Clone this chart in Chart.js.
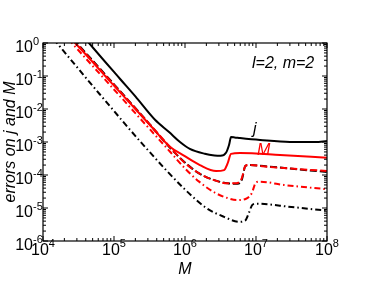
<!DOCTYPE html>
<html>
<head>
<meta charset="utf-8">
<script src="https://cdn.jsdelivr.net/npm/chart.js@4/dist/chart.umd.min.js"></script>
<style>
  html, body { margin: 0; padding: 0; background: #fff; }
  #wrap { width: 367px; height: 284px; position: relative; }
</style>
</head>
<body>
<div id="wrap"><canvas id="c"></canvas></div>
<script>
// ---- data (M, error) ----
const jSolidM   = [4.0e4, 4.45e4, 1.22e5, 2.0e5, 3.78e5, 5.96e5, 8.5e5, 1.17e6, 1.9e6, 2.6e6, 3.16e6, 3.78e6, 4.17e6, 4.45e6, 5.0e6, 5.96e6, 1.14e7, 3.0e7, 6.8e7, 1.0e8];
const jSolidErr = [1.32, 1.0, 8.1e-2, 2.4e-2, 4.7e-3, 2.0e-3, 1.0e-3, 6.2e-4, 4.4e-4, 3.9e-4, 3.8e-4, 4.7e-4, 8.1e-4, 1.41e-3, 1.38e-3, 1.32e-3, 1.15e-3, 1.0e-3, 1.0e-3, 1.07e-3];

const mSolidM   = [2.5e4, 2.83e4, 1.0e5, 3.16e5, 6.2e5, 9.8e5, 1.62e6, 2.74e6, 3.55e6, 3.98e6, 4.45e6, 5.96e6, 2.18e7, 1.0e8];
const mSolidErr = [1.3, 1.0, 5.1e-2, 3.4e-3, 7.1e-4, 3.8e-4, 2.0e-4, 1.32e-4, 1.41e-4, 2.24e-4, 4.37e-4, 4.68e-4, 4.07e-4, 3.31e-4];

const mDashedM   = [2.6e4, 2.92e4, 1.0e5, 3.16e5, 6.3e5, 9.8e5, 1.58e6, 2.51e6, 3.98e6, 5.25e6, 6.3e6, 7.1e6, 7.94e6, 1.58e7, 3.98e7, 1.0e8];
const mDashedErr = [1.32, 1.0, 5.4e-2, 3.5e-3, 6.6e-4, 2.4e-4, 1.12e-4, 7.1e-5, 5.6e-5, 5.6e-5, 7.9e-5, 1.9e-4, 2.0e-4, 1.74e-4, 1.51e-4, 1.32e-4];

const jDashedM   = [2.69e4, 3.01e4, 1.0e5, 3.16e5, 6.3e5, 1.07e6, 1.58e6, 2.51e6, 3.98e6, 5.5e6, 6.3e6, 7.1e6, 7.94e6, 1.58e7, 3.98e7, 1.0e8];
const jDashedErr = [1.32, 1.0, 5.6e-2, 3.5e-3, 6.3e-4, 2.1e-4, 1.12e-4, 7.1e-5, 5.6e-5, 5.4e-5, 7.1e-5, 1.9e-4, 2.0e-4, 1.78e-4, 1.48e-4, 1.23e-4];

const mDashDotM   = [2.29e4, 2.56e4, 1.0e5, 3.16e5, 6.3e5, 1.02e6, 1.58e6, 2.57e6, 3.98e6, 5.37e6, 7.24e6, 8.71e6, 1.0e7, 1.12e7, 2.45e7, 1.0e8];
const mDashDotErr = [1.32, 1.0, 3.9e-2, 2.5e-3, 4.8e-4, 1.51e-4, 6.3e-5, 3.0e-5, 2.0e-5, 1.74e-5, 1.91e-5, 2.8e-5, 6.0e-5, 6.3e-5, 5.0e-5, 3.7e-5];

const jDashDotM   = [1.41e4, 1.57e4, 6.3e4, 2.74e5, 9.8e5, 2.0e6, 3.55e6, 5.75e6, 7.08e6, 7.94e6, 8.91e6, 1.0e7, 3.16e7, 1.0e8];
const jDashDotErr = [1.32, 1.0, 2.8e-2, 7.1e-4, 3.8e-5, 1.0e-5, 5.4e-6, 3.8e-6, 4.2e-6, 7.1e-6, 1.26e-5, 1.35e-5, 1.07e-5, 8.3e-6];

const xTickExps = [4, 5, 6, 7, 8];
const yTickExps = [0, -1, -2, -3, -4, -5, -6];
const xTitle = 'M';
const yTitle = 'errors on j and M';
const modeLabel = 'l=2, m=2';
const jLabel = 'j';
const mLabel = 'M';
// -------------------------------------------------

const pts = (xs, ys) => xs.map((v, i) => ({ x: v, y: ys[i] }));
const FONT = '"Liberation Sans", Arial, Helvetica, sans-serif';

function ds(label, xs, ys, color, dash) {
  return {
    label, data: pts(xs, ys),
    borderColor: color, backgroundColor: color,
    borderWidth: 2, borderDash: dash,
    pointRadius: 0, fill: false,
    cubicInterpolationMode: 'monotone'
  };
}

const deco = {
  id: 'deco',
  afterDraw(chart) {
    const { ctx, chartArea: a, scales } = chart;
    const xs = scales.x, ys = scales.y;
    ctx.save();
    ctx.strokeStyle = '#000';
    ctx.lineWidth = 1.2;
    ctx.setLineDash([]);
    ctx.strokeRect(a.left, a.top, a.right - a.left, a.bottom - a.top);
    ctx.lineWidth = 1;
    const seg = (x1, y1, x2, y2) => { ctx.beginPath(); ctx.moveTo(x1, y1); ctx.lineTo(x2, y2); ctx.stroke(); };
    // x ticks
    for (let k = xTickExps[0]; k <= xTickExps[xTickExps.length - 1]; k++) {
      for (let m = 1; m <= 9; m++) {
        const v = m * Math.pow(10, k);
        if (v > xs.max * 1.0001) break;
        const p = xs.getPixelForValue(v);
        const len = m === 1 ? 5 : 3;
        seg(p, a.bottom, p, a.bottom - len);
        seg(p, a.top, p, a.top + len);
      }
    }
    // y ticks
    for (let k = yTickExps[yTickExps.length - 1]; k <= yTickExps[0]; k++) {
      for (let m = 1; m <= 9; m++) {
        const v = m * Math.pow(10, k);
        if (v > ys.max * 1.0001) break;
        const p = ys.getPixelForValue(v);
        const len = m === 1 ? 5 : 3;
        seg(a.left, p, a.left + len, p);
        seg(a.right, p, a.right - len, p);
      }
    }
    ctx.fillStyle = '#000';
    const big = '16px ' + FONT, small = '11px ' + FONT;
    // x tick labels
    xTickExps.forEach(e => {
      const p = xs.getPixelForValue(Math.pow(10, e));
      ctx.font = big; const w1 = ctx.measureText('10').width;
      ctx.font = small; const w2 = ctx.measureText(String(e)).width;
      const x0 = p - (w1 + w2) / 2;
      ctx.textBaseline = 'alphabetic'; ctx.textAlign = 'left';
      ctx.font = big; ctx.fillText('10', x0, a.bottom + 13.5);
      ctx.font = small; ctx.fillText(String(e), x0 + w1, a.bottom + 5.5);
    });
    // y tick labels
    yTickExps.forEach(e => {
      const p = ys.getPixelForValue(Math.pow(10, e));
      const es = String(e);
      ctx.font = big; const w1 = ctx.measureText('10').width;
      const xr = a.left - 10;
      ctx.textBaseline = 'alphabetic'; ctx.textAlign = 'left';
      ctx.font = big; ctx.fillText('10', xr - w1, p + 8.5);
      ctx.font = small; ctx.fillText(es, xr, p + 1.5);
    });
    // axis titles
    ctx.font = 'italic 16px ' + FONT;
    ctx.textAlign = 'center';
    ctx.fillText(xTitle, (a.left + a.right) / 2, a.bottom + 33);
    ctx.save();
    ctx.translate(15, (a.top + a.bottom) / 2);
    ctx.rotate(-Math.PI / 2);
    ctx.fillText(yTitle, 0, 0);
    ctx.restore();
    // annotations
    ctx.textAlign = 'left';
    ctx.fillText(modeLabel, 252, 68);
    ctx.fillText(jLabel, 253, 134);
    ctx.fillStyle = '#ff0000';
    ctx.fillText(mLabel, 257, 155);
    ctx.restore();
  }
};

new Chart(document.getElementById('c'), {
  type: 'line',
  data: {
    datasets: [
      ds('j solid', jSolidM, jSolidErr, '#000000', []),
      ds('M solid', mSolidM, mSolidErr, '#ff0000', []),
      ds('M dashed', mDashedM, mDashedErr, '#ff0000', [7, 3]),
      ds('j dashed', jDashedM, jDashedErr, '#000000', [7, 3]),
      ds('M dash-dot', mDashDotM, mDashDotErr, '#ff0000', [6, 3, 1.5, 3]),
      ds('j dash-dot', jDashDotM, jDashDotErr, '#000000', [6, 3, 1.5, 3])
    ]
  },
  options: {
    responsive: true,
    maintainAspectRatio: false,
    animation: false,
    events: [],
    layout: { padding: { left: 43, right: 40, top: 43, bottom: 43 } },
    plugins: { legend: { display: false }, tooltip: { enabled: false } },
    scales: {
      x: { type: 'logarithmic', min: 1e4, max: 1e8, display: false },
      y: { type: 'logarithmic', min: 1e-6, max: 1, display: false }
    }
  },
  plugins: [deco]
});
</script>
</body>
</html>
